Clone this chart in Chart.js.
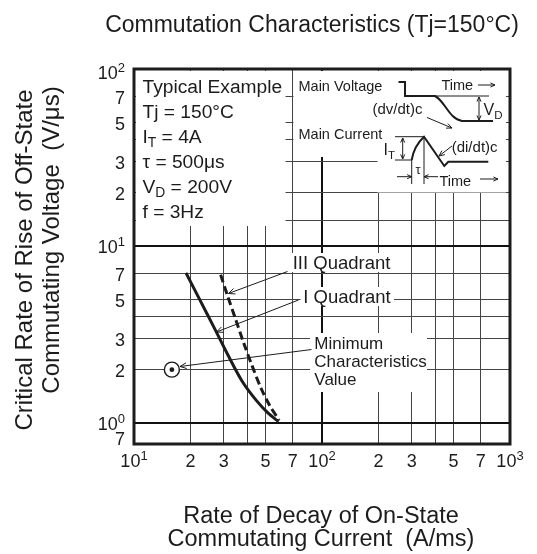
<!DOCTYPE html>
<html><head><meta charset="utf-8">
<script src="https://cdn.jsdelivr.net/npm/chart.js@4.4.1/dist/chart.umd.min.js"></script>
<style>html,body{margin:0;padding:0;background:#fff;}canvas{display:block;}</style>
</head><body>
<canvas id="c" width="537" height="554"></canvas>
<script>
// ---------- data ----------
const quadIx   = [18.9, 22.4, 26.6, 31.6, 37.6, 44.6, 51.7, 58.8];
const quadIy   = [7.05, 4.96, 3.48, 2.42, 1.72, 1.345, 1.135, 1.016];
const quadIIIx = [28.9, 31.6, 34.9, 38.5, 42.5, 47.4, 53.0, 59.2];
const quadIIIy = [6.87, 5.15, 3.79, 2.79, 2.10, 1.57, 1.24, 1.036];
const minMarkX = [15.9];
const minMarkY = [2];
const xGridValues = [10, 20, 30, 40, 50, 70, 100, 200, 300, 400, 500, 700, 1000];
const yGridValues = [1, 2, 3, 4, 5, 7, 10, 14, 20, 30, 40, 50, 70, 100];
const xTickValues = [10, 20, 30, 50, 70, 100, 200, 300, 500, 700, 1000];
const xTickLabels = [['10','1'],['2'],['3'],['5'],['7'],['10','2'],['2'],['3'],['5'],['7'],['10','3']];
const yTickValues = [0.76, 1, 2, 3, 5, 7, 10, 20, 30, 50, 70, 100];
const yTickLabels = [['7'],['10','0'],['2'],['3'],['5'],['7'],['10','1'],['2'],['3'],['5'],['7'],['10','2']];
const xMin = 10, xMax = 1000, yMin = 0.76, yMax = 100;

// ---------- texts ----------
const titleText = 'Commutation Characteristics (Tj=150°C)';
const xTitleLines = ['Rate of Decay of On-State', 'Commutating Current  (A/ms)'];
const yTitleLines = ['Critical Rate of Rise of Off-State', 'Commutating Voltage  (V/μs)'];
const conditionLines = [
  [['Typical Example']],
  [['Tj = 150°C']],
  [['I'], ['T','sub'], [' = 4A']],
  [['τ = 500μs']],
  [['V'], ['D','sub'], [' = 200V']],
  [['f = 3Hz']]
];
const labelIII = 'III Quadrant';
const labelI = 'I Quadrant';
const labelMin = ['Minimum', 'Characteristics', 'Value'];

const FONT = '"Liberation Sans", Arial, Helvetica, sans-serif';
const INK = '#1c1c1c';
const fnt = (px) => px + 'px ' + FONT;

function arrowHead(ctx, x1, y1, x2, y2, len, ang) {
  len = len || 6; ang = ang || 0.42;
  const a = Math.atan2(y2 - y1, x2 - x1);
  ctx.beginPath();
  ctx.moveTo(x2 - len * Math.cos(a - ang), y2 - len * Math.sin(a - ang));
  ctx.lineTo(x2, y2);
  ctx.lineTo(x2 - len * Math.cos(a + ang), y2 - len * Math.sin(a + ang));
  ctx.stroke();
}
function seg(ctx, x1, y1, x2, y2) {
  ctx.beginPath(); ctx.moveTo(x1, y1); ctx.lineTo(x2, y2); ctx.stroke();
}
function arrow(ctx, x1, y1, x2, y2, len) {
  seg(ctx, x1, y1, x2, y2); arrowHead(ctx, x1, y1, x2, y2, len);
}
function rich(ctx, parts, x, y, size) {
  let cx = x;
  ctx.textAlign = 'left'; ctx.textBaseline = 'alphabetic';
  parts.forEach(p => {
    if (p[1] === 'sub') {
      ctx.font = fnt(size * 0.72);
      ctx.fillText(p[0], cx, y + size * 0.22);
    } else {
      ctx.font = fnt(size);
      ctx.fillText(p[0], cx, y);
    }
    cx += ctx.measureText(p[0]).width;
  });
}
function tickLabel(ctx, parts, x, base, align) {
  ctx.font = fnt(18);
  const w1 = ctx.measureText(parts[0]).width;
  let w2 = 0;
  if (parts[1]) { ctx.font = fnt(13); w2 = ctx.measureText(parts[1]).width; }
  const total = w1 + w2;
  const start = align === 'center' ? x - total / 2 : x - total;
  ctx.textAlign = 'left'; ctx.textBaseline = 'alphabetic';
  ctx.font = fnt(18); ctx.fillText(parts[0], start, base);
  if (parts[1]) { ctx.font = fnt(13); ctx.fillText(parts[1], start + w1, base - 7); }
}

const isDecade = (v) => v > 0 && Math.abs(Math.log10(v) - Math.round(Math.log10(v))) < 1e-9;

const overlay = {
  id: 'overlay',
  beforeDatasetsDraw(chart) {
    const ctx = chart.ctx;
    ctx.save();
    ctx.fillStyle = '#fff';
    ctx.fillRect(136, 71, 149.5, 155);
    ctx.fillRect(293.5, 71, 212.5, 86);
    ctx.fillRect(377.5, 156, 128.5, 36.5);
    ctx.fillRect(291, 253, 101, 19);
    ctx.fillRect(300.5, 287, 93.5, 19);
    ctx.fillRect(310, 333, 117, 59);
    ctx.restore();
  },
  afterDatasetsDraw(chart) {
    const ctx = chart.ctx;
    const a = chart.chartArea;
    ctx.save();
    ctx.fillStyle = INK; ctx.strokeStyle = INK;

    const baseY = [93, 118, 143, 168, 193, 218];
    conditionLines.forEach((ln, i) => rich(ctx, ln, 142.5, baseY[i], 19.2));

    ctx.font = fnt(18.5); ctx.textAlign = 'left'; ctx.textBaseline = 'alphabetic';
    ctx.fillText(labelIII, 292.7, 269.3);
    ctx.fillText(labelI, 303.3, 302.7);
    ctx.font = fnt(17);
    const mb = [349.3, 367, 385];
    labelMin.forEach((t, i) => ctx.fillText(t, 314.3, mb[i]));

    ctx.lineWidth = 1;
    arrow(ctx, 287.5, 271.5, 228.5, 293.5, 7);
    arrow(ctx, 298.5, 300, 216.5, 332, 7);
    arrow(ctx, 311.5, 349.5, 180, 366.5, 7);

    // ----- waveform inset -----
    ctx.font = fnt(14.5);
    ctx.fillText('Main Voltage', 298.5, 90.5);
    ctx.fillText('Main Current', 298.5, 139);
    ctx.lineWidth = 2;
    ctx.beginPath();
    ctx.moveTo(398.5, 82); ctx.lineTo(405, 82); ctx.lineTo(405, 96); ctx.lineTo(435, 96);
    ctx.bezierCurveTo(445, 101, 449, 119, 462, 121); ctx.lineTo(493, 121);
    ctx.stroke();
    ctx.lineWidth = 1;
    seg(ctx, 435, 96, 489, 96);
    arrow(ctx, 479, 108, 479, 97, 5); arrow(ctx, 479, 108, 479, 120, 5);
    rich(ctx, [['V'], ['D','sub']], 483.5, 115, 16);
    ctx.font = fnt(14.5);
    ctx.fillText('Time', 441.5, 90);
    arrow(ctx, 478, 85, 495, 85, 5);
    ctx.font = fnt(15);
    ctx.fillText('(dv/dt)c', 372.5, 113.5);
    arrow(ctx, 427, 117.5, 452, 128, 6);

    seg(ctx, 395, 136.7, 424, 136.7);
    seg(ctx, 395, 160, 411.7, 160);
    arrow(ctx, 402.7, 148, 402.7, 138, 5); arrow(ctx, 402.7, 148, 402.7, 159, 5);
    rich(ctx, [['I'], ['T','sub']], 383.5, 155, 16);
    ctx.lineWidth = 2;
    ctx.beginPath();
    ctx.moveTo(411.7, 160); ctx.quadraticCurveTo(414, 146, 424, 136.7);
    ctx.lineTo(444.3, 166); ctx.lineTo(448.3, 161.7); ctx.lineTo(488.3, 161.7);
    ctx.stroke();
    ctx.lineWidth = 1;
    seg(ctx, 411.7, 160, 411.7, 184);
    seg(ctx, 424, 136.7, 424, 184);
    arrow(ctx, 397, 176.7, 411.7, 176.7, 5);
    arrow(ctx, 438, 176.7, 424, 176.7, 5);
    ctx.font = fnt(13); ctx.textAlign = 'center';
    ctx.fillText('τ', 418, 174);
    ctx.textAlign = 'left';
    ctx.font = fnt(15);
    ctx.fillText('(di/dt)c', 451.7, 152);
    arrow(ctx, 452, 146, 439, 156, 6);
    ctx.font = fnt(14.5);
    ctx.fillText('Time', 439.5, 186);
    arrow(ctx, 480, 179, 498, 179, 5);

    ctx.lineWidth = 3;
    ctx.strokeRect(a.left, a.top, a.right - a.left, a.bottom - a.top);
    ctx.restore();
  },
  afterDraw(chart) {
    const ctx = chart.ctx;
    const a = chart.chartArea;
    const xs = chart.scales.x, ys = chart.scales.y;
    ctx.save();
    ctx.fillStyle = INK;
    xTickValues.forEach((v, i) => tickLabel(ctx, xTickLabels[i], xs.getPixelForValue(v), a.bottom + 22.5, 'center'));
    yTickValues.forEach((v, i) => {
      let py = ys.getPixelForValue(v) + 1;
      if (v === yMin) py = a.bottom - 5;
      if (v === yMax) py = a.top + 3.5;
      tickLabel(ctx, yTickLabels[i], 125, py + 6.4, 'right');
    });
    ctx.font = fnt(23); ctx.textAlign = 'center'; ctx.textBaseline = 'alphabetic';
    ctx.fillText(titleText, 312, 31.5);
    ctx.font = fnt(23.5);
    ctx.fillText(xTitleLines[0], 321, 523.3);
    ctx.fillText(xTitleLines[1], 321, 546);
    ctx.font = fnt(24);
    ctx.save(); ctx.translate(32, 260); ctx.rotate(-Math.PI / 2); ctx.fillText(yTitleLines[0], 0, 0); ctx.restore();
    ctx.save(); ctx.translate(59, 240); ctx.rotate(-Math.PI / 2); ctx.fillText(yTitleLines[1], 0, 0); ctx.restore();
    ctx.restore();
  }
};

new Chart(document.getElementById('c'), {
  type: 'line',
  data: {
    datasets: [
      { label: 'I Quadrant', order: 2, data: quadIx.map((x, i) => ({ x, y: quadIy[i] })),
        borderColor: INK, borderWidth: 3, pointRadius: 0, tension: 0.3, fill: false },
      { label: 'III Quadrant', order: 2, data: quadIIIx.map((x, i) => ({ x, y: quadIIIy[i] })),
        borderColor: INK, borderWidth: 3, borderDash: [8, 4], pointRadius: 0, tension: 0.3, fill: false },
      { label: 'Minimum Characteristics Value', type: 'scatter', order: 1,
        data: minMarkX.map((x, i) => ({ x, y: minMarkY[i] })),
        pointRadius: 7.5, pointBackgroundColor: '#fff', pointBorderColor: INK, pointBorderWidth: 1.4 },
      { label: 'Minimum dot', type: 'scatter', order: 0,
        data: minMarkX.map((x, i) => ({ x, y: minMarkY[i] })),
        pointRadius: 2.4, pointBackgroundColor: INK, pointBorderColor: INK, pointBorderWidth: 0 }
    ]
  },
  options: {
    responsive: false, animation: false, devicePixelRatio: 1,
    layout: { padding: { left: 134, top: 69, right: 27, bottom: 110 } },
    plugins: { legend: { display: false }, tooltip: { enabled: false }, title: { display: false } },
    scales: {
      x: {
        type: 'logarithmic', min: xMin, max: xMax,
        afterBuildTicks: (s) => { s.ticks = xGridValues.map(v => ({ value: v })); },
        ticks: { display: false },
        border: { display: false },
        grid: { drawTicks: false,
          color: (c) => isDecade(c.tick && c.tick.value) ? '#111' : '#444',
          lineWidth: (c) => isDecade(c.tick && c.tick.value) ? 2 : 1 }
      },
      y: {
        type: 'logarithmic', min: yMin, max: yMax,
        afterBuildTicks: (s) => { s.ticks = yGridValues.map(v => ({ value: v })); },
        ticks: { display: false },
        border: { display: false },
        grid: { drawTicks: false,
          color: (c) => isDecade(c.tick && c.tick.value) ? '#111' : '#444',
          lineWidth: (c) => isDecade(c.tick && c.tick.value) ? 2 : 1 }
      }
    }
  },
  plugins: [overlay]
});
</script>
</body></html>
